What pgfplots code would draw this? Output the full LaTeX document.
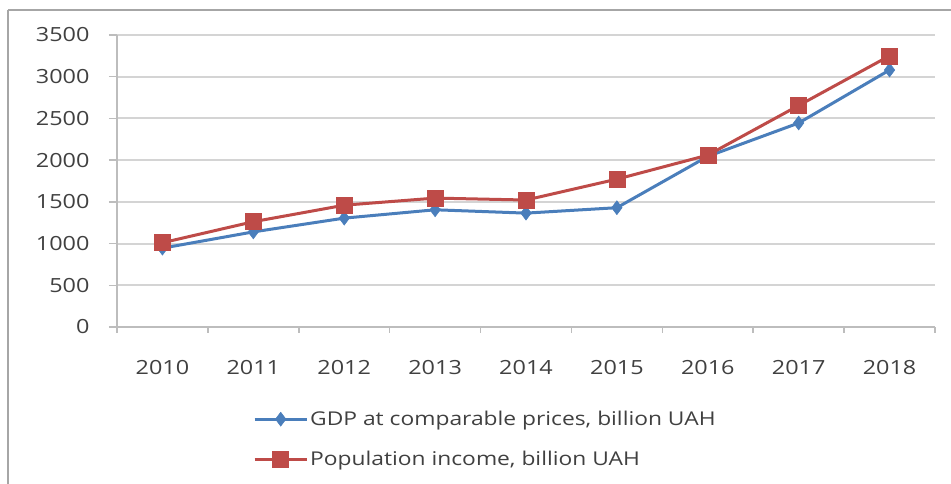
\documentclass[border=0pt]{standalone}
\usepackage{fontspec}
\setmainfont[FakeStretch=1.2]{Open Sans}
\usepackage{pgfplots}
\pgfplotsset{compat=1.18}

\definecolor{gdpblue}{HTML}{4A7EBB}
\definecolor{incred}{HTML}{BE4B48}
\definecolor{gridgray}{HTML}{D4D4D4}
\definecolor{axgray}{HTML}{BDBDBD}
\definecolor{framegray}{HTML}{A6A6A6}
\definecolor{txtgray}{HTML}{404040}

\begin{document}
\begin{tikzpicture}
% outer chart frame (partly cropped in the original)
\path[use as bounding box] (-117pt,-157pt) rectangle (834pt,327pt);
\draw[framegray, line width=2pt] (-109pt,-157pt) -- (-109pt,317pt);
\draw[framegray, line width=2pt] (-109pt,317pt) -- (834pt,317pt);
\begin{axis}[
	at={(0pt,0pt)}, anchor=south west,
	scale only axis,
	width=818pt, height=292pt,
	xmin=-0.5, xmax=8.5,
	ymin=0, ymax=3500,
	xtick={0,...,8},
	xticklabels={2010,2011,2012,2013,2014,2015,2016,2017,2018},
	minor xtick={-0.5,0.5,...,8.5},
	major x tick style={draw=none},
	minor x tick style={axgray, line width=1.5pt},
	ytick={0,500,...,3500},
	y tick style={axgray, line width=1.5pt},
	tick align=outside,
	major tick length=8pt,
	minor tick length=6pt,
	axis x line*=bottom,
	axis y line*=left,
	axis line style={axgray, line width=2pt},
	ymajorgrids,
	grid style={gridgray, line width=2pt},
	tick label style={font=\fontsize{19.5}{22}\selectfont, text=txtgray},
	xticklabel style={yshift=-22pt},
	yticklabel style={xshift=-16pt},
	/pgf/number format/assume math mode=true,
	/pgf/number format/set thousands separator={},
	clip=false,
	legend style={
		at={(136pt,-82pt)}, anchor=north west,
		draw=none, fill=none,
		font=\fontsize{19}{22}\selectfont, text=txtgray,
		row sep=20pt,
		inner sep=0pt,
		/tikz/every even column/.append style={column sep=2pt},
	},
	legend cell align=left,
	legend image code/.code={%
		\draw[mark repeat=2, mark phase=2] plot coordinates {(0pt,0pt) (26pt,0pt) (52pt,0pt)};},
]
\addplot[gdpblue, line width=3pt, mark=diamond*, mark size=7pt,
	mark options={solid, line width=0.5pt}]
	coordinates {
	(0, 945)
	(1, 1140)
	(2, 1305)
	(3, 1405)
	(4, 1365)
	(5, 1430)
	(6, 2045)
	(7, 2445)
	(8, 3080)
};
\addlegendentry{GDP at comparable prices, billion UAH}

\addplot[incred, line width=3pt, mark=square*, mark size=8pt,
	mark options={solid, line width=0.5pt}]
	coordinates {
	(0, 1010)
	(1, 1262)
	(2, 1460)
	(3, 1545)
	(4, 1522)
	(5, 1772)
	(6, 2060)
	(7, 2655)
	(8, 3250)
};
\addlegendentry{Population income, billion UAH}
\end{axis}
\end{tikzpicture}
\end{document}
